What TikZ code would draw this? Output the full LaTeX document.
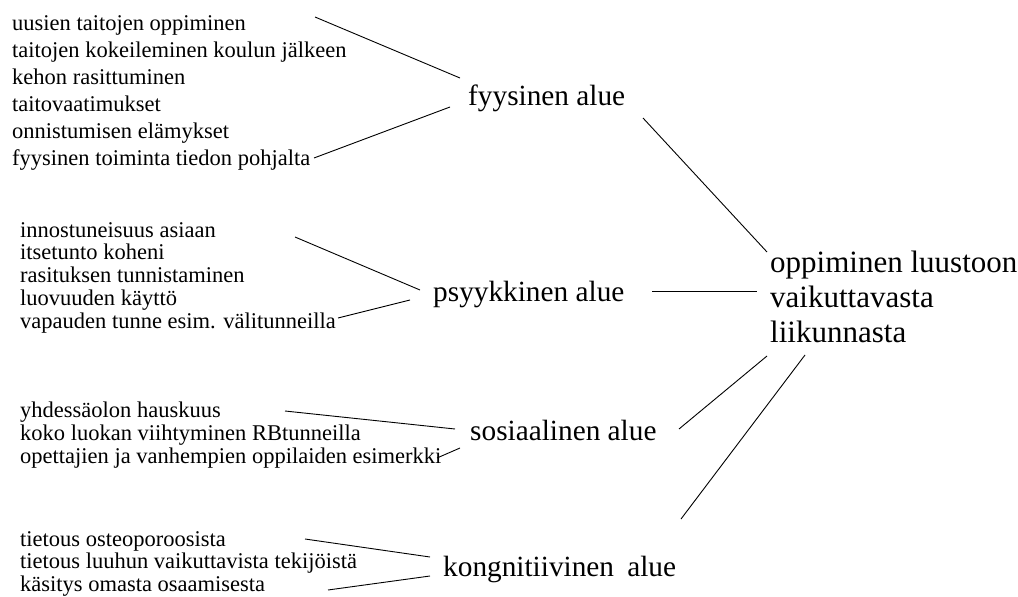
\documentclass[tikz,border=0pt]{standalone}
\usepackage{fontspec}
\setmainfont{Liberation Serif}
\usetikzlibrary{positioning}

\begin{document}
\begin{tikzpicture}[x=1pt, y=-1pt,
    item/.style={anchor=base west, inner sep=0pt, align=left, font=\fontsize{22.5}{22.7}\selectfont},
    area/.style={anchor=base west, inner sep=0pt, font=\fontsize{29.3}{36}\selectfont},
    goal/.style={anchor=base west, inner sep=0pt, align=left, font=\fontsize{31}{35}\selectfont},
    ln/.style={line width=0.9pt}]
  \useasboundingbox (0,0) rectangle (1018,597);

  % lists on the left (placed at the baseline of their last line)
  \node[item, font=\fontsize{22.5}{27}\selectfont] (fyyslist) at (12,165) {uusien taitojen oppiminen\\taitojen kokeileminen koulun jälkeen\\kehon rasittuminen\\taitovaatimukset\\onnistumisen elämykset\\fyysinen toiminta tiedon pohjalta};
  \node[item] (psyklist) at (20,328) {innostuneisuus asiaan\\itsetunto koheni\\rasituksen tunnistaminen\\luovuuden käyttö\\vapauden tunne esim. välitunneilla};
  \node[item] (soslist) at (20,463) {yhdessäolon hauskuus\\koko luokan viihtyminen RBtunneilla\\opettajien ja vanhempien oppilaiden esimerkki};
  \node[item] (konglist) at (20,591.5) {tietous osteoporoosista\\tietous luuhun vaikuttavista tekijöistä\\käsitys omasta osaamisesta};

  % areas
  \node[area] (fyys) at (468,105) {fyysinen alue};
  \node[area] (psyk) at (433,301) {psyykkinen alue};
  \node[area] (sos) at (470,440) {sosiaalinen alue};
  \node[area] (kong) at (443,576) {kongnitiivinen\hspace{0.45em}alue};

  % goal
  \node[goal] (goal) at (770,342) {oppiminen luustoon\\vaikuttavasta\\liikunnasta};

  % line ends
  \coordinate (f1) at (315,17);  \coordinate (f2) at (460,78);
  \coordinate (f3) at (314,158); \coordinate (f4) at (450,107);
  \coordinate (p1) at (295,237); \coordinate (p2) at (420,290);
  \coordinate (p3) at (338,318); \coordinate (p4) at (410,300);
  \coordinate (s1) at (285,411); \coordinate (s2) at (455,429);
  \coordinate (s3) at (437,458); \coordinate (s4) at (460,448);
  \coordinate (k1) at (305,539); \coordinate (k2) at (430,557);
  \coordinate (k3) at (328,590); \coordinate (k4) at (430,576);
  \coordinate (fg) at (643,118); \coordinate (gf) at (767,252);
  \coordinate (pg) at (652,291); \coordinate (gp) at (757,291);
  \coordinate (sg) at (679,429); \coordinate (gs) at (767,356);
  \coordinate (kg) at (681,519); \coordinate (gk) at (805,355);

  \draw[ln] (f1) -- (f2);
  \draw[ln] (f3) -- (f4);
  \draw[ln] (p1) -- (p2);
  \draw[ln] (p3) -- (p4);
  \draw[ln] (s1) -- (s2);
  \draw[ln] (s3) -- (s4);
  \draw[ln] (k1) -- (k2);
  \draw[ln] (k3) -- (k4);
  \draw[ln] (fg) -- (gf);
  \draw[ln] (pg) -- (gp);
  \draw[ln] (sg) -- (gs);
  \draw[ln] (kg) -- (gk);
\end{tikzpicture}
\end{document}
